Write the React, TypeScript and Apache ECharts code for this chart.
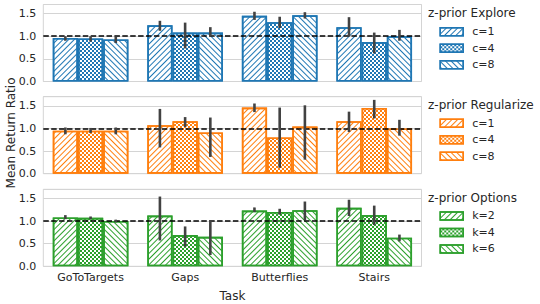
import React, { useEffect, useRef } from "react";
import * as echarts from "echarts";

const tasks = ["GoToTargets", "Gaps", "Butterflies", "Stairs"];
const yTicks = [0, 0.5, 1.0, 1.5];

const panelTitles = ["z-prior Explore", "z-prior Regularize", "z-prior Options"];
const panelColors = ["#1f77b4", "#ff7f0e", "#2ca02c"];
const panelLabels = [
  ["c=1", "c=4", "c=8"],
  ["c=1", "c=4", "c=8"],
  ["k=2", "k=4", "k=6"],
];

// mean values [variant][task]
const exploreMeans = [
  [0.96, 1.24, 1.45, 1.2],
  [0.95, 1.08, 1.31, 0.87],
  [0.93, 1.08, 1.46, 1.0],
];
const exploreLow = [
  [0.9, 1.12, 1.36, 0.99],
  [0.88, 0.73, 1.18, 0.62],
  [0.85, 0.99, 1.39, 0.9],
];
const exploreHigh = [
  [1.0, 1.34, 1.54, 1.42],
  [1.0, 1.3, 1.43, 1.08],
  [0.99, 1.2, 1.53, 1.14],
];

const regularizeMeans = [
  [0.95, 1.07, 1.46, 1.16],
  [0.95, 1.16, 0.8, 1.45],
  [0.95, 0.91, 1.04, 1.0],
];
const regularizeLow = [
  [0.87, 0.58, 1.36, 0.92],
  [0.9, 1.03, 0.13, 1.22],
  [0.87, 0.37, 0.31, 0.84],
];
const regularizeHigh = [
  [1.02, 1.43, 1.55, 1.37],
  [1.01, 1.25, 1.46, 1.63],
  [1.02, 1.24, 1.51, 1.19],
];

const optionsMeans = [
  [1.08, 1.12, 1.23, 1.29],
  [1.07, 0.69, 1.2, 1.13],
  [1.0, 0.65, 1.24, 0.63],
];
const optionsLow = [
  [1.04, 0.57, 1.2, 1.11],
  [1.04, 0.43, 1.14, 0.91],
  [0.97, 0.25, 1.02, 0.55],
];
const optionsHigh = [
  [1.13, 1.54, 1.3, 1.47],
  [1.1, 0.88, 1.27, 1.34],
  [1.03, 1.02, 1.43, 0.7],
];

const allMeans = [exploreMeans, regularizeMeans, optionsMeans];
const allLow = [exploreLow, regularizeLow, optionsLow];
const allHigh = [exploreHigh, regularizeHigh, optionsHigh];

const FONT = "DejaVu Sans";
const TEXT = "#262626";
const GRIDC = "#d4d4d4";

const gridTops = [4.5, 96.7, 189.3];
const gridHeight = 77;
const gridLeft = 43.3;
const gridWidth = 378.2;
const legendTops = [23.5, 115, 207.7];

function decalFor(variant: number, color: string) {
  if (variant === 0) {
    return { symbol: "rect", symbolSize: 1, color, dashArrayX: [1, 0], dashArrayY: [1, 3], rotation: -Math.PI / 4 };
  }
  if (variant === 2) {
    return { symbol: "rect", symbolSize: 1, color, dashArrayX: [1, 0], dashArrayY: [1, 3], rotation: Math.PI / 4 };
  }
  return {
    symbol: "rect",
    symbolSize: 1,
    color,
    dashArrayX: [
      [2, 2],
      [0, 2, 2, 0],
    ],
    dashArrayY: [2, 0],
    rotation: 0,
  };
}

export default function App() {
  const ref = useRef<HTMLDivElement>(null);
  useEffect(() => {
    if (!ref.current) return;
    const chart = echarts.init(ref.current, undefined, { renderer: "svg" });
    const grids: any[] = [];
    const xAxes: any[] = [];
    const yAxes: any[] = [];
    const series: any[] = [];
    const legends: any[] = [];
    const graphics: any[] = [];
    for (let p = 0; p < 3; p++) {
      grids.push({
        left: gridLeft,
        top: gridTops[p],
        width: gridWidth,
        height: gridHeight,
        show: true,
        borderColor: GRIDC,
        borderWidth: 1,
        backgroundColor: "transparent",
      });
      xAxes.push({
        type: "category",
        gridIndex: p,
        data: tasks,
        axisLine: { show: false },
        axisTick: { show: false },
        axisLabel: {
          show: p === 2,
          fontFamily: FONT,
          fontSize: 11,
          color: TEXT,
          margin: 6,
        },
        splitLine: { show: false },
        name: p === 2 ? "Task" : "",
        nameLocation: "middle",
        nameGap: 24,
        nameTextStyle: { fontFamily: FONT, fontSize: 12, color: TEXT },
      });
      yAxes.push({
        type: "value",
        gridIndex: p,
        min: 0,
        max: 1.7,
        interval: 0.5,
        axisLine: { show: false },
        axisTick: { show: false },
        axisLabel: {
          fontFamily: FONT,
          fontSize: 11,
          color: TEXT,
          margin: 7,
          showMaxLabel: false,
          formatter: (v: number) => (yTicks.includes(v) ? v.toFixed(1) : ""),
        },
        splitLine: { lineStyle: { color: GRIDC, width: 1 } },
      });
      const color = panelColors[p];
      const names: string[] = [];
      for (let v = 0; v < 3; v++) {
        const name = panelTitles[p] + "|" + panelLabels[p][v];
        names.push(name);
        series.push({
          type: "bar",
          name,
          xAxisIndex: p,
          yAxisIndex: p,
          data: allMeans[p][v],
          barGap: "0%",
          barCategoryGap: "20%",
          itemStyle: {
            color: "#ffffff",
            borderColor: color,
            borderWidth: 1.6,
            decal: decalFor(v, color),
          },
          emphasis: { disabled: true },
        });
      }
      series[series.length - 3].markLine = {
        silent: true,
        symbol: "none",
        label: { show: false },
        lineStyle: { color: "#000000", type: [5.5, 2.4], width: 1.5 },
        data: [{ yAxis: 1 }],
        z: 5,
      };
      const errData: number[][] = [];
      for (let v = 0; v < 3; v++) {
        for (let t = 0; t < tasks.length; t++) {
          errData.push([t, allLow[p][v][t], allHigh[p][v][t], v]);
        }
      }
      series.push({
        type: "custom",
        name: "err" + p,
        xAxisIndex: p,
        yAxisIndex: p,
        data: errData,
        encode: { x: 0, y: [1, 2] },
        z: 10,
        renderItem: (params: any, api: any) => {
          const cat = api.value(0);
          const lo = api.value(1);
          const hi = api.value(2);
          const k = api.value(3);
          const band = api.size([1, 0])[0];
          const off = ((k - 1) * band * 0.8) / 3;
          const p1 = api.coord([cat, lo]);
          const p2 = api.coord([cat, hi]);
          return {
            type: "line",
            shape: { x1: p1[0] + off, y1: p1[1], x2: p1[0] + off, y2: p2[1] },
            style: { stroke: "#424242", lineWidth: 2.6 },
          };
        },
      });
      legends.push({
        orient: "vertical",
        left: 439.5,
        top: legendTops[p],
        padding: 0,
        itemGap: 0,
        itemWidth: 23,
        itemHeight: 8,
        icon: "rect",
        data: names,
        selectedMode: false,
        itemStyle: { borderWidth: 1.5 },
        formatter: (n: string) => n.split("|")[1],
        textStyle: {
          fontFamily: FONT,
          fontSize: 11,
          color: TEXT,
          lineHeight: 16.5,
          padding: [0, 0, 0, 4],
        },
      });
      graphics.push({
        type: "text",
        x: 428,
        y: gridTops[p] + 8.2,
        style: {
          text: panelTitles[p],
          fontFamily: FONT,
          fontSize: 12,
          fill: TEXT,
          verticalAlign: "middle",
        },
      });
    }
    graphics.push({
      type: "text",
      x: 11,
      y: 133,
      rotation: Math.PI / 2,
      style: {
        text: "Mean Return Ratio",
        fontFamily: FONT,
        fontSize: 12,
        fill: TEXT,
        align: "center",
        verticalAlign: "middle",
      },
    });
    chart.setOption({
      animation: false,
      backgroundColor: "#ffffff",
      grid: grids,
      xAxis: xAxes,
      yAxis: yAxes,
      legend: legends,
      series,
      graphic: graphics,
    });
    return () => chart.dispose();
  }, []);
  return <div ref={ref} style={{ width: 540, height: 304, position: "absolute", left: 0, top: 0 }} />;
}
